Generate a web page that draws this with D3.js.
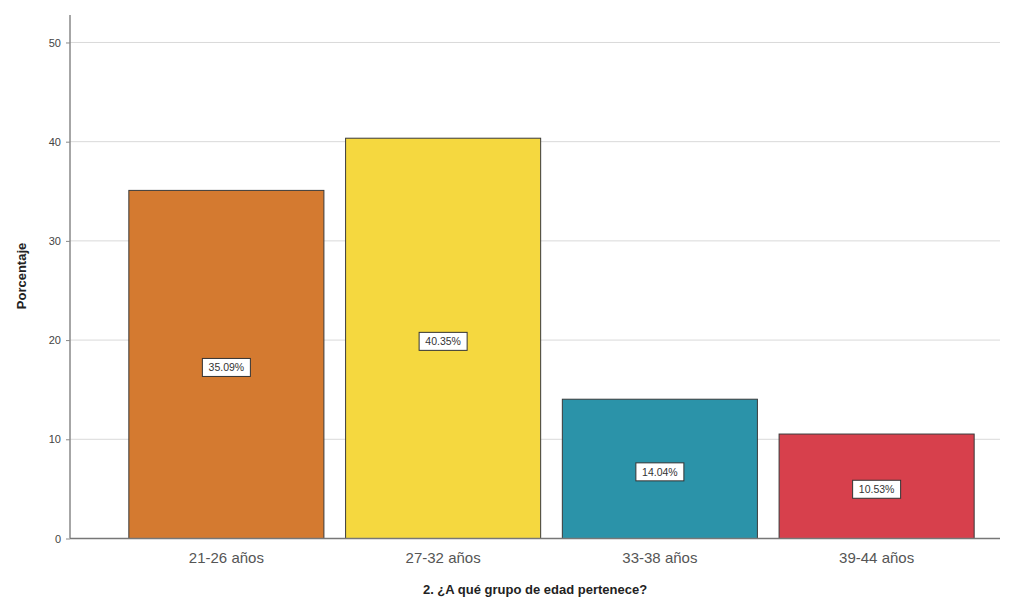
<!DOCTYPE html>
<html><head><meta charset="utf-8">
<script src="https://cdn.jsdelivr.net/npm/d3@7"></script>
<style>body{margin:0;background:#fff}</style>
</head><body>
<svg id="c" width="1015" height="609"></svg>
<script>
const categories = ["21-26 años","27-32 años","33-38 años","39-44 años"];
const values = [35.09, 40.35, 14.04, 10.53];
const labels = ["35.09%","40.35%","14.04%","10.53%"];
const colors = ["#d47a30","#f5d83f","#2b93a9","#d7404c"];
const yTicks = [0,10,20,30,40,50];
const xTitle = "2. ¿A qué grupo de edad pertenece?";
const yTitle = "Porcentaje";

const svg = d3.select("#c");
const axisX = 70, plotRight = 1000, plotTop = 15, plotBottom = 538.5;
const y = d3.scaleLinear().domain([0, 52.77]).range([plotBottom, plotTop]);
const x = d3.scaleBand().domain(categories).range([118, 985]).paddingInner(0.1).paddingOuter(0.05);

// gridlines
svg.append("g").selectAll("line").data(yTicks.filter(d=>d>0)).join("line")
  .attr("x1", axisX).attr("x2", plotRight)
  .attr("y1", d=>y(d)).attr("y2", d=>y(d))
  .attr("stroke", "#d9d9d9").attr("stroke-width", 1);

// bars
svg.append("g").selectAll("rect").data(values).join("rect")
  .attr("x", (d,i)=>x(categories[i]))
  .attr("width", x.bandwidth())
  .attr("y", d=>y(d))
  .attr("height", d=>y(0)-y(d))
  .attr("fill", (d,i)=>colors[i])
  .attr("stroke", "#3a3a3a").attr("stroke-width", 1);

// y axis
const yAxis = d3.axisLeft(y).tickValues(yTicks).tickSize(4).tickPadding(5);
const gy = svg.append("g").attr("transform", `translate(${axisX},0)`).call(yAxis);
gy.select(".domain").remove();
gy.selectAll(".tick line").attr("stroke", "#888");
gy.selectAll(".tick text").attr("fill", "#444").style("font-family","Arial, 'Liberation Sans', sans-serif").style("font-size","11px");
svg.append("line").attr("x1", axisX).attr("x2", axisX).attr("y1", plotTop).attr("y2", plotBottom)
  .attr("stroke", "#888").attr("stroke-width", 1.5);

// x axis
const xAxis = d3.axisBottom(x).tickSize(0).tickPadding(14);
const gx = svg.append("g").attr("transform", `translate(0,${plotBottom})`).call(xAxis);
gx.select(".domain").remove();
gx.selectAll(".tick text").attr("fill", "#555").style("font-family","Arial, 'Liberation Sans', sans-serif").style("font-size","15px");
svg.append("line").attr("x1", axisX).attr("x2", plotRight).attr("y1", plotBottom).attr("y2", plotBottom)
  .attr("stroke", "#777").attr("stroke-width", 1.5);

// data labels
const lg = svg.append("g").selectAll("g").data(values).join("g")
  .attr("transform", (d,i)=>`translate(${x(categories[i]) + x.bandwidth()/2},${y(d/2)+3})`);
lg.append("rect").attr("x", -24).attr("y", -9).attr("width", 48).attr("height", 18)
  .attr("fill", "#fff").attr("stroke", "#333").attr("stroke-width", 1);
lg.append("text").text((d,i)=>labels[i]).attr("text-anchor","middle").attr("dy","0.35em")
  .attr("fill","#333").style("font-family","Arial, 'Liberation Sans', sans-serif").style("font-size","10.5px");

// titles
svg.append("text").attr("x", 535).attr("y", 594).attr("text-anchor","middle")
  .style("font-family","Arial, 'Liberation Sans', sans-serif").style("font-size","13px").style("font-weight","bold")
  .attr("fill","#222").text(xTitle);
svg.append("text").attr("transform", "translate(26,276) rotate(-90)").attr("text-anchor","middle")
  .style("font-family","Arial, 'Liberation Sans', sans-serif").style("font-size","13px").style("font-weight","bold")
  .attr("fill","#222").text(yTitle);
</script>
</body></html>
